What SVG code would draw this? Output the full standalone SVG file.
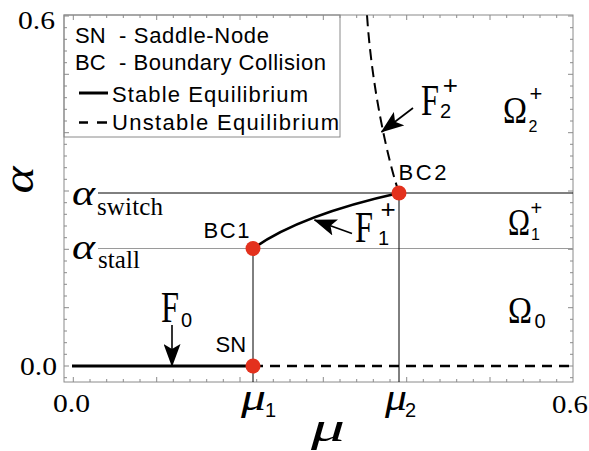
<svg xmlns="http://www.w3.org/2000/svg" width="589" height="451" viewBox="0 0 589 451">
<style>
.sans{font-family:"Liberation Sans",Arial,sans-serif;fill:#000}
.serif{font-family:"Liberation Serif","Times New Roman",serif;fill:#000}
.it{font-style:italic}
.frame{fill:none;stroke:#8a8a8a;stroke-width:1}
.tick{fill:none;stroke:#8a8a8a;stroke-width:1}
.thin{fill:none;stroke:#000;stroke-width:1}
.grey{fill:none;stroke:#9a9a9a;stroke-width:1}
.stable{fill:none;stroke:#000;stroke-width:3}
.unstable{fill:none;stroke:#000;stroke-width:2.5;stroke-dasharray:10 7}
.arrow{fill:none;stroke:#000;stroke-width:1.6;marker-end:url(#ah)}
.dot{fill:#e3311d}
</style>
<defs>
<marker id="ah" viewBox="0 0 23 17" markerWidth="23" markerHeight="17" refX="22" refY="8.5" orient="auto" markerUnits="userSpaceOnUse">
<path d="M0,0 L23,8.5 L0,17 L5,8.5 Z" fill="#000"/>
</marker>
</defs>
<rect width="589" height="451" fill="#fff"/>

<g id="frame">
<rect class="frame" x="64" y="15" width="509" height="367"/>
<path class="tick" d="M73.3,382v-5M156.7,382v-5M240,382v-5M323.3,382v-5M406.7,382v-5M490,382v-5M73.3,15v5M156.7,15v5M240,15v5M323.3,15v5M406.7,15v5M490,15v5M64,366h5M64,307.7h5M64,249.3h5M64,191h5M64,132.7h5M64,74.3h5M64,16h5M573,366h-5M573,307.7h-5M573,249.3h-5M573,191h-5M573,132.7h-5M573,74.3h-5M573,16h-5"/>
<path class="tick" d="M90,382v-3M106.7,382v-3M123.3,382v-3M140,382v-3M173.3,382v-3M190,382v-3M206.7,382v-3M223.3,382v-3M256.7,382v-3M273.3,382v-3M290,382v-3M306.7,382v-3M340,382v-3M356.7,382v-3M373.3,382v-3M390,382v-3M423.3,382v-3M440,382v-3M456.7,382v-3M473.3,382v-3M506.7,382v-3M523.3,382v-3M540,382v-3M556.7,382v-3M90,15v3M106.7,15v3M123.3,15v3M140,15v3M173.3,15v3M190,15v3M206.7,15v3M223.3,15v3M256.7,15v3M273.3,15v3M290,15v3M306.7,15v3M340,15v3M356.7,15v3M373.3,15v3M390,15v3M423.3,15v3M440,15v3M456.7,15v3M473.3,15v3M506.7,15v3M523.3,15v3M540,15v3M556.7,15v3M64,377.7h3M64,354.3h3M64,342.7h3M64,331h3M64,319.3h3M64,296h3M64,284.3h3M64,272.7h3M64,261h3M64,237.7h3M64,226h3M64,214.3h3M64,202.7h3M64,179.3h3M64,167.7h3M64,156h3M64,144.3h3M64,121h3M64,109.3h3M64,97.7h3M64,86h3M64,62.7h3M64,51h3M64,39.3h3M64,27.7h3M573,377.7h-3M573,354.3h-3M573,342.7h-3M573,331h-3M573,319.3h-3M573,296h-3M573,284.3h-3M573,272.7h-3M573,261h-3M573,237.7h-3M573,226h-3M573,214.3h-3M573,202.7h-3M573,179.3h-3M573,167.7h-3M573,156h-3M573,144.3h-3M573,121h-3M573,109.3h-3M573,97.7h-3M573,86h-3M573,62.7h-3M573,51h-3M573,39.3h-3M573,27.7h-3"/>
<text class="serif" x="57" y="375" text-anchor="end" font-size="26" textLength="37" lengthAdjust="spacingAndGlyphs">0.0</text>
<text class="serif" x="55" y="29" text-anchor="end" font-size="26" textLength="37" lengthAdjust="spacingAndGlyphs">0.6</text>
<text class="serif" x="71.5" y="412" text-anchor="middle" font-size="26" textLength="37" lengthAdjust="spacingAndGlyphs">0.0</text>
<text class="serif" x="570" y="413" text-anchor="middle" font-size="26" textLength="36" lengthAdjust="spacingAndGlyphs">0.6</text>
<text class="serif it" x="328" y="441" text-anchor="middle" font-size="40" textLength="34" lengthAdjust="spacingAndGlyphs">μ</text>
<text class="serif it" transform="translate(33,180) rotate(-90)" text-anchor="middle" font-size="44" textLength="27" lengthAdjust="spacingAndGlyphs">α</text>
</g>

<g id="legend">
<rect x="64" y="15" width="276" height="122" fill="none" stroke="#8a8a8a" stroke-width="1"/>
<text class="sans" x="75" y="42.5" font-size="22">SN</text>
<text class="sans" x="119" y="42.5" font-size="22" textLength="150">- Saddle-Node</text>
<text class="sans" x="75" y="69.5" font-size="22">BC</text>
<text class="sans" x="119" y="69.5" font-size="22" textLength="207">- Boundary Collision</text>
<path d="M79,93H108" stroke="#000" stroke-width="3"/>
<text class="sans" x="112" y="101.5" font-size="22" textLength="196">Stable Equilibrium</text>
<path d="M79,122.5H88M97,122.5H107" stroke="#000" stroke-width="2.5"/>
<text class="sans" x="112" y="130" font-size="22" textLength="227">Unstable Equilibrium</text>
</g>

<g id="reference-lines">
<path class="thin" d="M98,193H573"/>
<path class="grey" d="M98,248.5H573"/>
<path class="thin" d="M253,248.5V382"/>
<path class="thin" d="M399,193V382"/>
<text class="serif it" x="72" y="205" font-size="36" textLength="23" lengthAdjust="spacingAndGlyphs">α</text>
<text class="serif" x="97" y="215" font-size="25" textLength="66">switch</text>
<text class="serif it" x="72" y="258.5" font-size="36" textLength="23" lengthAdjust="spacingAndGlyphs">α</text>
<text class="serif" x="98" y="268" font-size="25" textLength="42">stall</text>
<text class="serif it" x="241" y="410" font-size="38" textLength="25" lengthAdjust="spacingAndGlyphs">μ</text>
<text class="sans" x="265" y="417" font-size="20">1</text>
<text class="serif it" x="385" y="410" font-size="38" textLength="22" lengthAdjust="spacingAndGlyphs">μ</text>
<text class="sans" x="405" y="417" font-size="20" textLength="15">2</text>
</g>

<g id="connectors">
<path class="stable" d="M72,366H253"/>
<path class="unstable" d="M253,366H573"/>
<path fill="none" stroke="#000" stroke-width="2.6" d="M253,248.5Q300,215 399,193"/>
<path fill="none" stroke="#000" stroke-width="2" stroke-dasharray="11 6" d="M399,193C388,160 372,90 367,15"/>
<path class="arrow" d="M172,325V366"/>
<path class="arrow" d="M413,108L381.5,132"/>
<path class="arrow" d="M352,233.5L314.5,220"/>
</g>

<g id="SN">
<circle class="dot" cx="253" cy="366" r="7.5"/>
<text class="sans" x="215.5" y="351.5" font-size="22">SN</text>
</g>
<g id="BC1">
<circle class="dot" cx="253" cy="248.5" r="7.5"/>
<text class="sans" x="203.5" y="238" font-size="22" textLength="46">BC1</text>
</g>
<g id="BC2">
<circle class="dot" cx="399" cy="193" r="7.5"/>
<text class="sans" x="398.5" y="180" font-size="22" textLength="48">BC2</text>
</g>

<g id="F0">
<text class="serif" x="161" y="321.7" font-size="44" textLength="18" lengthAdjust="spacingAndGlyphs">F</text>
<text class="sans" x="181" y="326.7" font-size="20">0</text>
</g>
<g id="F1">
<text class="serif" x="355" y="241.7" font-size="44" textLength="18" lengthAdjust="spacingAndGlyphs">F</text>
<text class="sans" x="378" y="245" font-size="20">1</text>
<text class="sans" x="380.4" y="218.2" font-size="26">+</text>
</g>
<g id="F2">
<text class="serif" x="421" y="115" font-size="44" textLength="18" lengthAdjust="spacingAndGlyphs">F</text>
<text class="sans" x="440" y="118.3" font-size="20" textLength="15">2</text>
<text class="sans" x="442.7" y="94.2" font-size="26">+</text>
</g>

<g id="Omega2">
<text class="serif" x="503" y="123.3" font-size="38" textLength="24" lengthAdjust="spacingAndGlyphs">Ω</text>
<text class="sans" x="528.5" y="131.7" font-size="16">2</text>
<text class="sans" x="529.5" y="101" font-size="22">+</text>
</g>
<g id="Omega1">
<text class="serif" x="508" y="235" font-size="38" textLength="22" lengthAdjust="spacingAndGlyphs">Ω</text>
<text class="sans" x="531" y="240" font-size="16">1</text>
<text class="sans" x="530.5" y="214.8" font-size="20">+</text>
</g>
<g id="Omega0">
<text class="serif" x="508" y="323.3" font-size="38" textLength="24" lengthAdjust="spacingAndGlyphs">Ω</text>
<text class="sans" x="534.5" y="328.3" font-size="20">0</text>
</g>
</svg>
